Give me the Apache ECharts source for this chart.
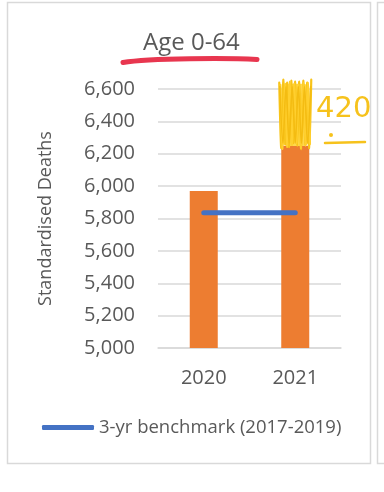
<!DOCTYPE html>
<html>
<head>
<meta charset="utf-8">
<script src="https://cdn.jsdelivr.net/npm/echarts@6/dist/echarts.min.js"></script>
<style>
html,body{margin:0;padding:0;background:#fff;}
#c{width:384px;height:492px;}
</style>
</head>
<body>
<div id="c"></div>
<script>
// ---- data ----
const categories = ['2020', '2021'];
const deaths = [5970, 6250];
const benchmark = [5835, 5835];
const yMin = 5000, yMax = 6600, yStep = 200;
const scribbleCategory = '2021';
const scribbleFrom = 6235;
const scribbleTo = 6670;
const excessLabel = '420';
const titleText = 'Age 0-64';
const yTitle = 'Standardised Deaths';
const legendText = '3-yr benchmark (2017-2019)';

const FONT = 'Open Sans';
const GREY = '#595959';

const chart = echarts.init(document.getElementById('c'), null, {renderer: 'canvas'});

function scribbleItem(params, api) {
  const c = api.value(0);
  const p0 = api.coord([c, api.value(1)]);
  const p1 = api.coord([c, api.value(2)]);
  const w = 32;
  const x0 = p0[0] - w / 2;
  const yb = p0[1], yt = p1[1];
  const children = [
    {type: 'rect', shape: {x: x0 + 2, y: yt + 6, width: w - 4, height: yb - yt - 8, r: 6},
      style: {fill: '#FFD84C'}}
  ];
  const strokes = [
    {n: 16, off: 0, col: '#F8C41A', lw: 2.2},
    {n: 13, off: 1.2, col: '#FFCF2E', lw: 2},
    {n: 10, off: 0.6, col: '#F4BC12', lw: 1.6}
  ];
  strokes.forEach((s, k) => {
    const pts = [];
    for (let i = 0; i <= s.n; i++) {
      const x = x0 + s.off + (i * (w - 2 * s.off)) / s.n;
      const j = ((i * (5 + k)) % 7) - 3;
      pts.push([x, (i % 2 === 0) ? yt + 2 + Math.abs(j) + k * 2 : yb - 2 + j]);
    }
    children.push({type: 'polyline', shape: {points: pts, smooth: 0.3},
      style: {stroke: s.col, lineWidth: s.lw, fill: null, lineCap: 'round', lineJoin: 'round'}});
  });
  return {type: 'group', children: children};
}

const option = {
  backgroundColor: '#ffffff',
  animation: false,
  title: {
    text: titleText, left: 138, top: 26,
    textStyle: {fontFamily: FONT, fontSize: 24, fontWeight: 'normal', color: GREY}
  },
  grid: {left: 158, right: 43, top: 89, bottom: 144},
  legend: {
    data: [legendText], left: 42, top: 418, padding: 0,
    icon: 'roundRect', itemWidth: 52, itemHeight: 5, itemGap: 0,
    textStyle: {fontFamily: FONT, fontSize: 18.5, color: GREY}
  },
  xAxis: {
    type: 'category', data: categories,
    axisLine: {show: true, lineStyle: {color: '#d9d9d9', width: 1.5}},
    axisTick: {show: false},
    axisLabel: {fontFamily: FONT, fontSize: 20, color: GREY, margin: 20}
  },
  yAxis: {
    type: 'value', min: yMin, max: yMax, interval: yStep,
    name: yTitle, nameLocation: 'middle', nameRotate: 90, nameGap: 103,
    nameTextStyle: {fontFamily: FONT, fontSize: 18, color: GREY},
    axisLine: {show: false}, axisTick: {show: false},
    splitLine: {lineStyle: {color: '#d9d9d9', width: 1.5}},
    axisLabel: {fontFamily: FONT, fontSize: 20, color: GREY, margin: 23,
      formatter: v => v.toLocaleString('en-US')}
  },
  series: [
    {
      name: 'Standardised Deaths', type: 'bar', data: deaths, barWidth: 28,
      itemStyle: {color: '#ED7D31'}
    },
    {
      name: legendText, type: 'line', data: benchmark, symbol: 'none',
      lineStyle: {color: '#4472C4', width: 5, cap: 'round'},
      itemStyle: {color: '#4472C4'}, z: 3
    },
    {
      name: 'scribble', type: 'custom', renderItem: scribbleItem, clip: false, z: 4,
      data: [[scribbleCategory, scribbleFrom, scribbleTo]],
      encode: {x: 0, y: [1, 2]}
    }
  ],
  graphic: [
    {type: 'rect', shape: {x: 7.5, y: 2.5, width: 363, height: 461}, silent: true, z: -1,
      style: {fill: null, stroke: '#d9d9d9', lineWidth: 1.5}},
    {type: 'rect', shape: {x: 377.5, y: 2.5, width: 30, height: 461}, silent: true, z: -1,
      style: {fill: null, stroke: '#d9d9d9', lineWidth: 1.5}},
    {type: 'bezierCurve', silent: true,
      shape: {x1: 123, y1: 62.5, x2: 257, y2: 59.5, cpx1: 150, cpy1: 58, cpx2: 230, cpy2: 58},
      style: {stroke: '#E8364F', lineWidth: 5, lineCap: 'round', fill: null}},
    {type: 'text', left: 316, top: 95, silent: true, z: 10,
      style: {text: excessLabel, fontFamily: 'DejaVu Sans', fontSize: 29, fill: '#F6C21C'}},
    {type: 'line', silent: true, z: 10,
      shape: {x1: 325, y1: 143, x2: 365, y2: 142},
      style: {stroke: '#F6C21C', lineWidth: 2.5, lineCap: 'round'}},
    {type: 'circle', silent: true, z: 10, shape: {cx: 331, cy: 135, r: 2},
      style: {fill: '#F6C21C'}}
  ]
};
chart.setOption(option);
</script>
</body>
</html>
